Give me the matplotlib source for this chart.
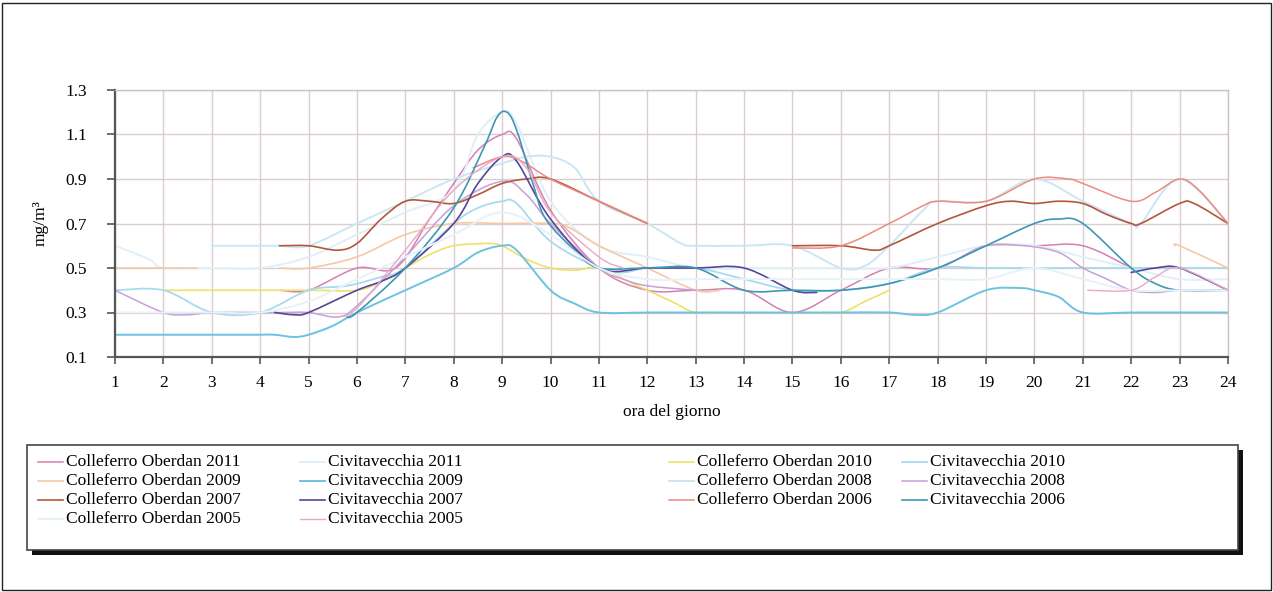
import numpy as np
import matplotlib

matplotlib.use("Agg")
import matplotlib.pyplot as plt
from matplotlib.lines import Line2D
from matplotlib.patches import PathPatch, Rectangle
from matplotlib.path import Path

plt.rcParams["font.family"] = ["Liberation Serif", "DejaVu Serif"]

W, H = 1273, 592
nan = np.nan

# hourly profiles, mg/m3 (nan = missing hours)
co2011_x = [4.4, 5, 6, 6.8, 7.5, 8, 8.5, 9, 9.3, 10, 11, 12, 13, 14, 15, 16, 17, 18, 19, 20, 21, 22]
co2011_y = [0.4, 0.4, 0.5, 0.5, 0.72, 0.88, 1.03, 1.1, 1.08, 0.76, 0.5, 0.4, 0.4, 0.4, 0.3, 0.4, 0.5, 0.5, 0.6, 0.6, 0.6, 0.5]

civ2011_x = [1, 1.7, 2, 3, 4, 5, 6, 7, 8, 8.5, 9, 9.3, 10, 11, 12, 13, 14, 15, 16, 17, 18, 19, 20, 21, 22, 23, 24]
civ2011_y = [0.6, 0.54, 0.5, 0.5, 0.5, 0.55, 0.65, 0.75, 0.85, 1.1, 1.2, 1.15, 0.8, 0.6, 0.55, 0.5, 0.5, 0.5, 0.5, 0.5, 0.55, 0.6, 0.6, 0.55, 0.5, 0.45, 0.45]

co2010_x = [2, 3, 4, 5, 6, 6.5, 7, 7.5, 8, 8.7, 9, 9.5, 10, 10.5, 11, 11.7, 12, 12.5, 13, 13.7, 14.5, 15.3, 16, 16.5, 17, 19, 20.8, 21.5]
co2010_y = [0.4, 0.4, 0.4, 0.4, 0.4, 0.44, 0.5, 0.56, 0.6, 0.61, 0.6, 0.54, 0.5, 0.49, 0.5, 0.43, 0.4, 0.35, 0.3, 0.3, nan, 0.3, 0.3, 0.35, 0.4, nan, 0.5, 0.5]

civ2010_x = [1, 2, 3, 4, 5, 5.8, 6.5, 7, 8, 8.5, 9, 9.3, 10, 11, 11.5, 12, 13, 14, 15, 16, 17, 18, 19, 20, 21, 22, 23, 24]
civ2010_y = [0.4, 0.4, 0.3, 0.3, 0.4, 0.42, 0.46, 0.5, 0.7, 0.77, 0.8, 0.79, 0.62, 0.5, 0.48, 0.5, 0.5, 0.45, 0.4, 0.4, 0.43, 0.5, 0.5, 0.5, 0.5, 0.5, 0.5, 0.5]

co2009_x = [1, 2, 2.7, 3.5, 4.4, 5, 6, 7, 8, 9, 10, 10.4, 11, 12, 13, 13.5, 18, 22.9, 23, 24]
co2009_y = [0.5, 0.5, 0.5, nan, 0.5, 0.5, 0.55, 0.65, 0.7, 0.7, 0.7, 0.68, 0.6, 0.5, 0.4, 0.4, nan, 0.6, 0.6, 0.5]

civ2009_x = [1, 2, 3, 4, 4.3, 4.7, 5, 5.5, 6, 7, 8, 8.5, 9, 9.3, 10, 10.5, 11, 12, 13, 14, 15, 16, 17, 17.5, 18, 19, 19.7, 20, 20.5, 21, 22, 23, 24]
civ2009_y = [0.2, 0.2, 0.2, 0.2, 0.2, 0.19, 0.2, 0.24, 0.3, 0.4, 0.5, 0.57, 0.6, 0.58, 0.4, 0.34, 0.3, 0.3, 0.3, 0.3, 0.3, 0.3, 0.3, 0.29, 0.3, 0.4, 0.41, 0.4, 0.37, 0.3, 0.3, 0.3, 0.3]

co2008_x = [3, 4, 4.4, 5, 6, 7, 8, 9, 9.5, 10, 10.5, 11, 12, 12.7, 13, 14, 15, 16, 16.5, 17, 17.7, 18, 19, 20, 21, 22, 22.2, 23, 24]
co2008_y = [0.6, 0.6, 0.6, 0.6, 0.7, 0.8, 0.9, 0.97, 1.0, 1.0, 0.95, 0.8, 0.7, 0.61, 0.6, 0.6, 0.6, 0.5, 0.51, 0.6, 0.76, 0.8, 0.8, 0.9, 0.8, 0.7, 0.7, 0.9, 0.7]

civ2008_x = [1, 2, 2.5, 3, 4, 4.4, 5, 5.6, 6, 7, 8, 9, 9.5, 10, 11, 11.5, 12, 13, 15, 18.5, 19, 19.8, 20.5, 21, 21.5, 22, 22.5, 23, 24]
civ2008_y = [0.4, 0.3, 0.29, 0.3, 0.3, 0.3, 0.3, 0.28, 0.33, 0.55, 0.78, 0.89, 0.83, 0.7, 0.5, 0.45, 0.42, 0.4, nan, 0.55, 0.6, 0.6, 0.57, 0.5, 0.45, 0.4, 0.39, 0.4, 0.4]

co2007_x = [4.4, 5, 5.6, 6, 6.5, 7, 7.5, 8, 8.5, 9, 9.5, 10, 11, 12, 13.5, 15, 16, 16.7, 17, 18, 19, 19.5, 20, 20.5, 21, 21.5, 22, 22.2, 23, 23.3, 24]
co2007_y = [0.6, 0.6, 0.58, 0.61, 0.72, 0.8, 0.8, 0.79, 0.83, 0.88, 0.9, 0.9, 0.8, 0.7, nan, 0.6, 0.6, 0.58, 0.6, 0.7, 0.78, 0.8, 0.79, 0.8, 0.79, 0.74, 0.7, 0.7, 0.79, 0.79, 0.7]

civ2007_x = [4.3, 4.7, 5, 6, 6.5, 7, 8, 8.5, 9, 9.3, 10, 11, 12, 13, 14, 15, 15.5, 19, 22, 22.5, 23, 24]
civ2007_y = [0.3, 0.29, 0.3, 0.4, 0.44, 0.5, 0.7, 0.88, 1.0, 0.98, 0.72, 0.5, 0.5, 0.5, 0.5, 0.4, 0.39, nan, 0.48, 0.5, 0.5, 0.4]

co2006_x = [8.4, 9, 9.4, 10, 11, 12, 13.5, 15, 16, 17, 17.7, 18, 19, 20, 20.7, 21, 22, 22.5, 23, 23.4, 24]
co2006_y = [0.95, 1.0, 0.98, 0.9, 0.8, 0.7, nan, 0.59, 0.6, 0.7, 0.78, 0.8, 0.8, 0.9, 0.9, 0.88, 0.8, 0.84, 0.9, 0.85, 0.7]

civ2006_x = [5.8, 6, 7, 8, 8.64, 8.9, 9.1, 9.3, 9.65, 9.9, 10.5, 11, 12, 13, 14, 15, 16, 17, 18, 19, 20, 20.5, 21, 22, 22.5, 23, 24]
civ2006_y = [0.28, 0.3, 0.5, 0.77, 1.05, 1.18, 1.2, 1.12, 0.87, 0.72, 0.58, 0.5, 0.5, 0.5, 0.4, 0.4, 0.4, 0.43, 0.5, 0.6, 0.7, 0.72, 0.7, 0.5, 0.43, 0.4, 0.4]

co2005_x = [1, 2, 3, 4, 5, 6, 7, 8, 9, 10, 11, 12, 13, 14, 15, 16, 17, 18, 19, 20, 21, 22, 23, 24]
co2005_y = [0.3, 0.3, 0.3, 0.3, 0.35, 0.45, 0.55, 0.65, 0.75, 0.65, 0.5, 0.45, 0.45, 0.45, 0.45, 0.45, 0.45, 0.45, 0.45, 0.5, 0.45, 0.4, 0.4, 0.4]

civ2005_x = [5.6, 6, 7, 8, 9, 9.5, 10, 11, 11.5, 16, 21.1, 22, 22.5, 23, 24]
civ2005_y = [0.28, 0.32, 0.58, 0.85, 1.0, 0.95, 0.75, 0.55, 0.5, nan, 0.4, 0.4, 0.46, 0.5, 0.4]

# legend order is row by row, four per row
series = [
    ("Colleferro Oberdan 2011", co2011_x, co2011_y, "#d77fb1", 1.1),
    ("Civitavecchia 2011", civ2011_x, civ2011_y, "#e1eff8", 1.4),
    ("Colleferro Oberdan 2010", co2010_x, co2010_y, "#efe06a", 1.2),
    ("Civitavecchia 2010", civ2010_x, civ2010_y, "#a8daee", 1.3),
    ("Colleferro Oberdan 2009", co2009_x, co2009_y, "#f5c9a5", 1.2),
    ("Civitavecchia 2009", civ2009_x, civ2009_y, "#6cc2e3", 1.4),
    ("Colleferro Oberdan 2008", co2008_x, co2008_y, "#cbe6f4", 1.4),
    ("Civitavecchia 2008", civ2008_x, civ2008_y, "#c6a1d6", 1.1),
    ("Colleferro Oberdan 2007", co2007_x, co2007_y, "#b3573b", 1.2),
    ("Civitavecchia 2007", civ2007_x, civ2007_y, "#544799", 1.2),
    ("Colleferro Oberdan 2006", co2006_x, co2006_y, "#ee8a80", 1.1),
    ("Civitavecchia 2006", civ2006_x, civ2006_y, "#3d97b5", 1.2),
    ("Colleferro Oberdan 2005", co2005_x, co2005_y, "#e6f2f9", 1.4),
    ("Civitavecchia 2005", civ2005_x, civ2005_y, "#eaa8c4", 1.0),
]

hours = list(range(1, 25))
y_ticks = [0.1, 0.3, 0.5, 0.7, 0.9, 1.1, 1.3]


def smooth_path(xs, ys):
    """Excel-style smoothed line: cubic Bezier through every point, split at gaps."""
    verts, codes = [], []
    runs, cur = [], []
    for x, y in zip(xs, ys):
        if np.isnan(y):
            if cur:
                runs.append(cur)
            cur = []
        else:
            cur.append((x, y))
    if cur:
        runs.append(cur)
    for run in runs:
        p = np.array(run, dtype=float)
        verts.append(p[0])
        codes.append(Path.MOVETO)
        if len(p) == 1:
            continue
        ext = np.vstack([p[0], p, p[-1]])
        for i in range(1, len(ext) - 2):
            p0, p1, p2, p3 = ext[i - 1], ext[i], ext[i + 1], ext[i + 2]
            verts += [p1 + (p2 - p0) / 6, p2 - (p3 - p1) / 6, p2]
            codes += [Path.CURVE4] * 3
    return Path(verts, codes)


fig = plt.figure(figsize=(W / 100, H / 100), dpi=100)
ax = fig.add_axes([115 / W, 1 - 357 / H, (1228 - 115) / W, (357 - 90) / H])

grid_color = "#dacdcd"
for h in hours:
    ax.axvline(h, color=grid_color, lw=1.0, zorder=0)
for v in y_ticks:
    ax.axhline(v, color=grid_color, lw=1.0, zorder=0)

# pale lines first so the darker ones sit on top
order = sorted(range(len(series)), key=lambda i: series[i][3] in ("#e1eff8", "#e6f2f9", "#cbe6f4", "#a8daee", "#f5c9a5"), reverse=True)
for i in order:
    label, xs, ys, color, lw = series[i]
    path = smooth_path(xs, ys)
    ax.add_patch(PathPatch(path, fill=False, edgecolor=color, lw=lw, zorder=2 + i * 0.01,
                           capstyle="round", joinstyle="round"))

ax.set_xlim(1, 24)
ax.set_ylim(0.1, 1.3)
ax.set_xticks(hours)
ax.set_yticks(y_ticks)
ax.set_yticklabels([f"{v:.1f}" for v in y_ticks])
ax.tick_params(axis="x", direction="out", length=5, width=1.2, color="#555555", pad=8, labelsize=12.5)
ax.tick_params(axis="y", direction="out", length=6, width=1.2, color="#555555", pad=14, labelsize=12.5)
for side in ("left", "bottom"):
    ax.spines[side].set_color("#555555")
    ax.spines[side].set_linewidth(1.6)
for side in ("top", "right"):
    ax.spines[side].set_color("#cfc2c2")
    ax.spines[side].set_linewidth(1.0)

ax.set_xlabel("ora del giorno", fontsize=12.5, labelpad=9)
ax.set_ylabel("mg/m³", fontsize=12.5, labelpad=12)

# legend box with drop shadow
tf = fig.transFigure
box_l, box_r, box_t, box_b = 27, 1238, 445, 550
fig.patches.append(Rectangle(((box_l + 5) / W, 1 - (box_b + 5) / H), (box_r - box_l) / W, (box_b - box_t) / H,
                             transform=tf, facecolor="#111111", edgecolor="none", zorder=1))
fig.patches.append(Rectangle((box_l / W, 1 - box_b / H), (box_r - box_l) / W, (box_b - box_t) / H,
                             transform=tf, facecolor="white", edgecolor="#444444", lw=1.2, zorder=2))

col_text = [66, 328, 697, 930]
row_y = [462, 481, 500, 519]
for k, (label, xs, ys, color, lw) in enumerate(series):
    r, c = divmod(k, 4)
    tx, ty = col_text[c], row_y[r]
    fig.add_artist(Line2D([(tx - 28) / W, (tx - 3) / W], [1 - ty / H, 1 - ty / H],
                          transform=tf, color=color, lw=lw, zorder=3))
    fig.text(tx / W, 1 - ty / H, label, fontsize=12.5, va="center", ha="left", zorder=3)

# thin frame around the whole figure
fig.patches.append(Rectangle((2 / W, 2 / H), (W - 4) / W, (H - 5) / H, transform=tf,
                             facecolor="none", edgecolor="#222222", lw=1.0, zorder=0))

fig.savefig("out.png", dpi=100)
